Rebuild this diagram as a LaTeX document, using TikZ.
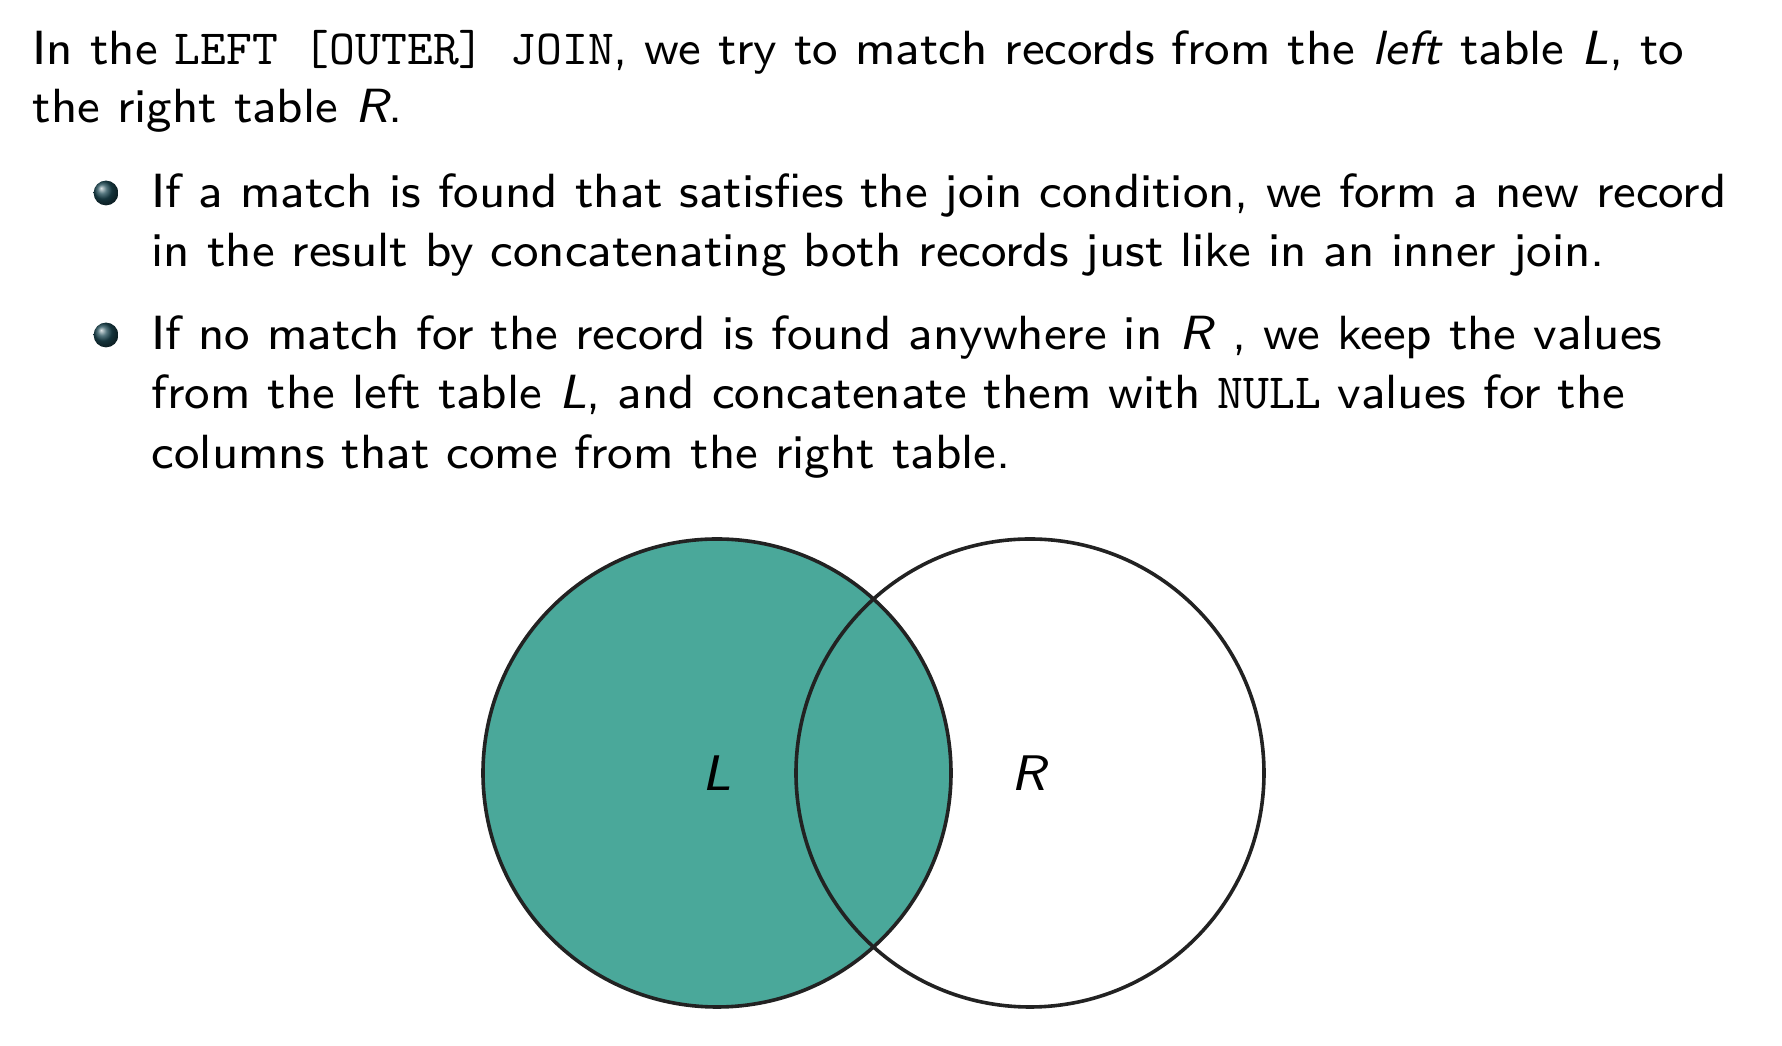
\documentclass[tikz,border=0pt]{standalone}
\usepackage{fontspec}
\setmainfont{lmsans8-regular.otf}[ItalicFont=lmsans8-oblique.otf]
\setmonofont{lmmono10-regular.otf}[Scale=1.025]

\definecolor{joinfill}{HTML}{4AA89A}
\definecolor{ringline}{HTML}{222222}
\definecolor{bulletball}{HTML}{1E4A55}

\begin{document}
\begin{tikzpicture}[x=0.25pt, y=-0.25pt,
    textline/.style={anchor=base west, inner sep=0pt, font=\fontsize{12}{15}\selectfont},
    ring/.style={draw=ringline, line width=0.9pt}]
    \useasboundingbox (0,0) rectangle (1782,1046);

    % Intro text
    \node[textline] (intro1) at (32,65)
      {In the \texttt{LEFT [OUTER] JOIN}, we try to match records from the \textit{left} table \textit{L}, to};
    \node[textline] (intro2) at (32,123) {the right table \textit{R}.};

    % Bullets
    \foreach \y in {193, 335} {
      \shade[ball color=bulletball] (106,\y) circle[radius=3.1pt];
    }

    % First item
    \node[textline] (itemA1) at (151,208)
      {If a match is found that satisfies the join condition, we form a new record};
    \node[textline] (itemA2) at (151,267)
      {in the result by concatenating both records just like in an inner join.};

    % Second item
    \node[textline] (itemB1) at (151,350)
      {If no match for the record is found anywhere in \textit{R} , we keep the values};
    \node[textline] (itemB2) at (151,409)
      {from the left table \textit{L}, and concatenate them with \texttt{NULL} values for the};
    \node[textline] (itemB3) at (151,469)
      {columns that come from the right table.};

    % Venn diagram
    \coordinate (cL) at (717,773);
    \coordinate (cR) at (1030,773);
    \fill[joinfill] (cL) circle[radius=58.5pt];
    \draw[ring] (cL) circle[radius=58.5pt];
    \draw[ring] (cR) circle[radius=58.5pt];
    \node[font=\fontsize{12.5}{15}\selectfont] (setL) at (cL) {\textit{L}};
    \node[font=\fontsize{12.5}{15}\selectfont] (setR) at (cR) {\textit{R}};
\end{tikzpicture}
\end{document}
